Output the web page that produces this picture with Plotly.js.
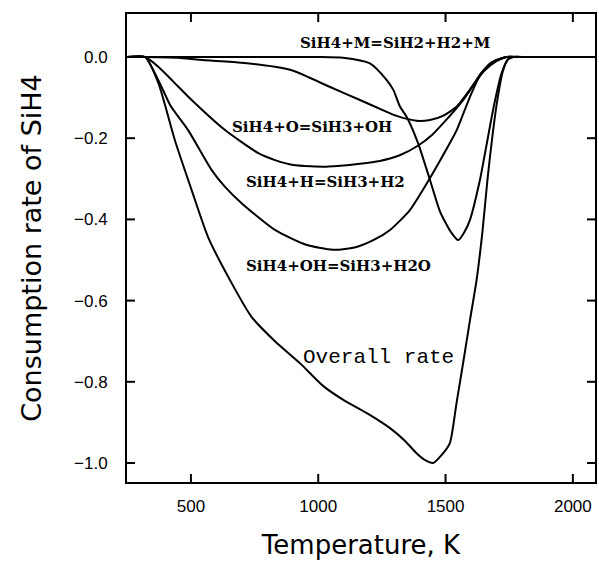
<!DOCTYPE html>
<html>
<head>
<meta charset="utf-8">
<script src="https://cdn.plot.ly/plotly-3.0.1.min.js"></script>
<style>html,body{margin:0;padding:0;background:#fff}#chart{width:599px;height:565px}</style>
</head>
<body>
<div id="chart"></div>
<script>
// Temperature (K) and consumption-rate values
const overallT = [250, 320, 372, 437, 503, 567, 660, 738, 830, 928, 1019, 1100, 1191, 1282, 1340, 1386, 1420, 1451, 1485, 1517, 1543, 1570, 1596, 1622, 1645, 1665, 1685, 1705, 1725, 1745, 1765, 1820, 2100];
const overallR = [0, 0, -0.064, -0.205, -0.328, -0.443, -0.557, -0.64, -0.70, -0.754, -0.81, -0.845, -0.877, -0.914, -0.945, -0.976, -0.993, -1.0, -0.98, -0.951, -0.853, -0.75, -0.648, -0.549, -0.43, -0.30, -0.19, -0.10, -0.035, -0.006, 0, 0, 0];

const ohT = [250, 320, 372, 420, 489, 581, 634, 699, 830, 950, 1058, 1150, 1220, 1282, 1360, 1439, 1517, 1544, 1596, 1640, 1690, 1740, 1790, 2100];
const ohR = [0, 0, -0.057, -0.12, -0.18, -0.278, -0.32, -0.36, -0.426, -0.462, -0.475, -0.468, -0.45, -0.426, -0.377, -0.298, -0.212, -0.18, -0.098, -0.04, -0.01, 0, 0, 0];

const hT = [250, 320, 372, 430, 503, 634, 765, 830, 902, 1040, 1164, 1242, 1320, 1393, 1450, 1491, 1569, 1609, 1650, 1700, 1740, 1790, 2100];
const hR = [0, 0, -0.024, -0.06, -0.106, -0.18, -0.237, -0.254, -0.266, -0.27, -0.263, -0.256, -0.242, -0.218, -0.19, -0.163, -0.106, -0.07, -0.035, -0.01, 0, 0, 0];

const oT = [250, 320, 450, 535, 700, 830, 902, 1040, 1164, 1269, 1308, 1386, 1439, 1490, 1544, 1596, 1640, 1674, 1740, 1790, 2100];
const oR = [0, 0, -0.002, -0.007, -0.014, -0.024, -0.034, -0.072, -0.106, -0.135, -0.145, -0.157, -0.155, -0.145, -0.122, -0.08, -0.04, -0.016, 0, 0, 0];

const mT = [250, 1000, 1097, 1203, 1269, 1295, 1321, 1347, 1392, 1439, 1478, 1520, 1550, 1575, 1596, 1635, 1660, 1690, 1720, 1745, 1765, 1810, 2100];
const mR = [0, 0, -0.002, -0.016, -0.057, -0.081, -0.122, -0.147, -0.212, -0.303, -0.38, -0.43, -0.451, -0.43, -0.401, -0.303, -0.22, -0.12, -0.04, -0.006, 0, 0, 0];

const xTicks = [500, 1000, 1500, 2000];
const yTicks = [0, -0.2, -0.4, -0.6, -0.8, -1.0];

const labelText = ['SiH4+M=SiH2+H2+M', 'SiH4+O=SiH3+OH', 'SiH4+H=SiH3+H2', 'SiH4+OH=SiH3+H2O', 'Overall rate'];
const labelT = [1301, 977, 1030, 1081, 1238];
const labelR = [0.034, -0.172, -0.308, -0.515, -0.741];

const W = 599, H = 565;
const M = {l: 127, r: 4, t: 14, b: 83};
const xRange = [249, 2087];
const yRange = [-1.0468, 0.1059];

const line = {color: '#000', width: 2, shape: 'spline', smoothing: 0.6};
const series = [[overallT, overallR], [ohT, ohR], [hT, hR], [oT, oR], [mT, mR]];
const traces = series.map(s => ({x: s[0], y: s[1], mode: 'lines', line: line, hoverinfo: 'skip'}));

// inward tick marks (8 px) on all four sides, drawn as one segmented line trace
const TICK = 8;
const dx = (xRange[1] - xRange[0]) * TICK / (W - M.l - M.r);
const dy = (yRange[1] - yRange[0]) * TICK / (H - M.t - M.b);
const tx = [], ty = [];
xTicks.forEach(v => {
  tx.push(v, v, null, v, v, null);
  ty.push(yRange[0], yRange[0] + dy, null, yRange[1], yRange[1] - dy, null);
});
yTicks.forEach(v => {
  tx.push(xRange[0], xRange[0] + dx, null, xRange[1], xRange[1] - dx, null);
  ty.push(v, v, null, v, v, null);
});
traces.push({x: tx, y: ty, mode: 'lines', line: {color: '#000', width: 2}, connectgaps: false, hoverinfo: 'skip'});

const annotations = labelText.map((t, i) => ({
  x: labelT[i], y: labelR[i], xref: 'x', yref: 'y', text: t, showarrow: false,
  xanchor: 'center', yanchor: 'middle',
  font: i === 4 ? {family: 'Liberation Mono', size: 21, color: '#000'}
               : {family: 'DejaVu Serif', size: 15, color: '#000', weight: 'bold'}
}));

const layout = {
  width: W, height: H,
  margin: {l: M.l, r: M.r, t: M.t, b: M.b, autoexpand: false},
  paper_bgcolor: '#fff', plot_bgcolor: '#fff',
  showlegend: false,
  font: {family: 'Liberation Sans', color: '#000'},
  xaxis: {
    range: xRange, tickvals: xTicks, ticktext: xTicks.map(String),
    ticks: '', showline: true, linewidth: 2, linecolor: '#000', mirror: true,
    showgrid: false, zeroline: false,
    tickfont: {family: 'Liberation Sans', size: 17, color: '#000'},
    ticklabelstandoff: 8,
    title: {text: 'Temperature, K', font: {family: 'DejaVu Sans', size: 26, color: '#000'}, standoff: 20}
  },
  yaxis: {
    range: yRange, tickvals: yTicks, tickformat: '.1f',
    ticks: '', showline: true, linewidth: 2, linecolor: '#000', mirror: true,
    showgrid: false, zeroline: false,
    tickfont: {family: 'Liberation Sans', size: 17, color: '#000'},
    ticklabelstandoff: 14,
    title: {text: 'Consumption rate of SiH4', font: {family: 'DejaVu Sans', size: 27, color: '#000'}, standoff: 25}
  },
  annotations: annotations
};

Plotly.newPlot('chart', traces, layout, {staticPlot: true, displayModeBar: false});
</script>
</body>
</html>
